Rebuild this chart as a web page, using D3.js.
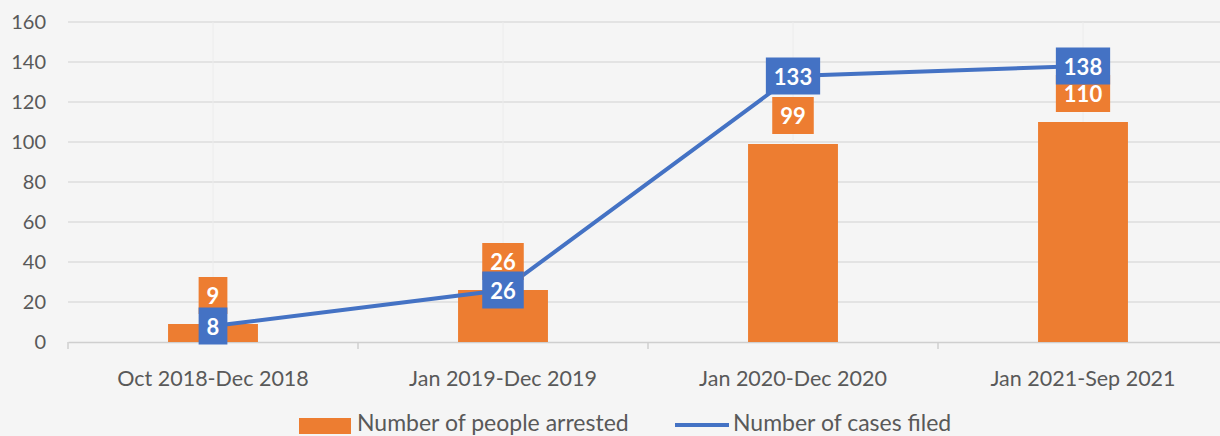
<!DOCTYPE html>
<html>
<head>
  <meta charset="UTF-8">
  <script src="https://d3js.org/d3.v7.min.js"></script>
  <style>
    body { margin: 0; background: #f5f5f5; }
    svg { display: block; font-family: Lato, "Open Sans", sans-serif; }
  </style>
</head>
<body>
<script>
// chart data
var categories = ['Oct 2018-Dec 2018', 'Jan 2019-Dec 2019', 'Jan 2020-Dec 2020', 'Jan 2021-Sep 2021'];
var arrested = [9, 26, 99, 110];
var casesFiled = [8, 26, 133, 138];
var yTicks = [0, 20, 40, 60, 80, 100, 120, 140, 160];

var W = 1220, H = 436;
var orange = '#ed7d31', blue = '#4472c4', textGrey = '#595959';

var svg = d3.select('body').append('svg')
  .attr('width', W)
  .attr('height', H);

svg.append('rect').attr('width', W).attr('height', H).attr('fill', '#f5f5f5');

var x = d3.scaleBand().domain(categories).range([68, 1228]);
var y = d3.scaleLinear().domain([0, 160]).range([342, 22]);
var barW = x.bandwidth() * 0.31;
function cx(c) { return x(c) + x.bandwidth() / 2; }

// gridlines
svg.append('g').selectAll('line')
  .data(yTicks.filter(function (d) { return d > 0; }))
  .join('line')
  .attr('x1', 68).attr('x2', W)
  .attr('y1', function (d) { return y(d); })
  .attr('y2', function (d) { return y(d); })
  .attr('stroke', '#dcdcdc').attr('stroke-width', 1.5);

// y axis labels
var yAxis = svg.append('g')
  .attr('transform', 'translate(68,0)')
  .call(d3.axisLeft(y).tickValues(yTicks).tickSize(0).tickPadding(22));
yAxis.select('.domain').remove();
yAxis.selectAll('text')
  .attr('fill', textGrey)
  .style('font-size', '20px')
  .style('font-family', 'Lato, sans-serif');

// x axis
var xAxis = svg.append('g')
  .attr('transform', 'translate(0,' + y(0) + ')')
  .call(d3.axisBottom(x).tickSize(0).tickPadding(29));
xAxis.select('.domain').attr('stroke', '#cfcfcf').attr('stroke-width', 1.5);
xAxis.selectAll('text')
  .attr('fill', textGrey)
  .style('font-size', '21.5px')
  .style('font-family', 'Lato, sans-serif');

// category separators
svg.append('g').selectAll('line')
  .data(categories)
  .join('line')
  .attr('x1', function (d) { return x(d); })
  .attr('x2', function (d) { return x(d); })
  .attr('y1', y(0)).attr('y2', y(0) + 7)
  .attr('stroke', '#cfcfcf').attr('stroke-width', 1.5);

// faint leader lines
svg.append('g').selectAll('line')
  .data(categories)
  .join('line')
  .attr('x1', cx).attr('x2', cx)
  .attr('y1', y(160)).attr('y2', y(0))
  .attr('stroke', '#ececec').attr('stroke-width', 1);

// bars
svg.append('g').selectAll('rect')
  .data(categories)
  .join('rect')
  .attr('x', function (d) { return cx(d) - barW / 2; })
  .attr('width', barW)
  .attr('y', function (d, i) { return y(arrested[i]); })
  .attr('height', function (d, i) { return y(0) - y(arrested[i]); })
  .attr('fill', orange);

// line
var line = d3.line()
  .x(function (d, i) { return cx(categories[i]); })
  .y(function (d) { return y(d); });
svg.append('path')
  .datum(casesFiled)
  .attr('d', line)
  .attr('fill', 'none')
  .attr('stroke', blue)
  .attr('stroke-width', 4);

// labels with boxes
function addLabel(g, text, xc, yc, fill) {
  var t = g.append('text')
    .attr('x', xc).attr('y', yc)
    .attr('text-anchor', 'middle')
    .attr('dominant-baseline', 'central')
    .attr('fill', '#fff')
    .style('font-size', '22px')
    .style('font-weight', 'bold')
    .text(text);
  var w = t.node().getComputedTextLength() + 16;
  g.insert('rect', 'text')
    .attr('x', xc - w / 2).attr('y', yc - 18.5)
    .attr('width', w).attr('height', 37)
    .attr('fill', fill);
}

var lbl = svg.append('g');
categories.forEach(function (c, i) {
  addLabel(lbl.append('g'), arrested[i], cx(c), y(arrested[i]) - 10 - 18.5, orange);
});
categories.forEach(function (c, i) {
  addLabel(lbl.append('g'), casesFiled[i], cx(c), y(casesFiled[i]), blue);
});

// legend
var leg = svg.append('g').style('font-size', '23px').attr('fill', textGrey);
leg.append('rect').attr('x', 299).attr('y', 418).attr('width', 52).attr('height', 16).attr('fill', orange);
leg.append('text').attr('x', 357).attr('y', 431).text('Number of people arrested');
leg.append('line').attr('x1', 675).attr('x2', 729).attr('y1', 425).attr('y2', 425)
  .attr('stroke', blue).attr('stroke-width', 4);
leg.append('text').attr('x', 733).attr('y', 431).text('Number of cases filed');
</script>
</body>
</html>
